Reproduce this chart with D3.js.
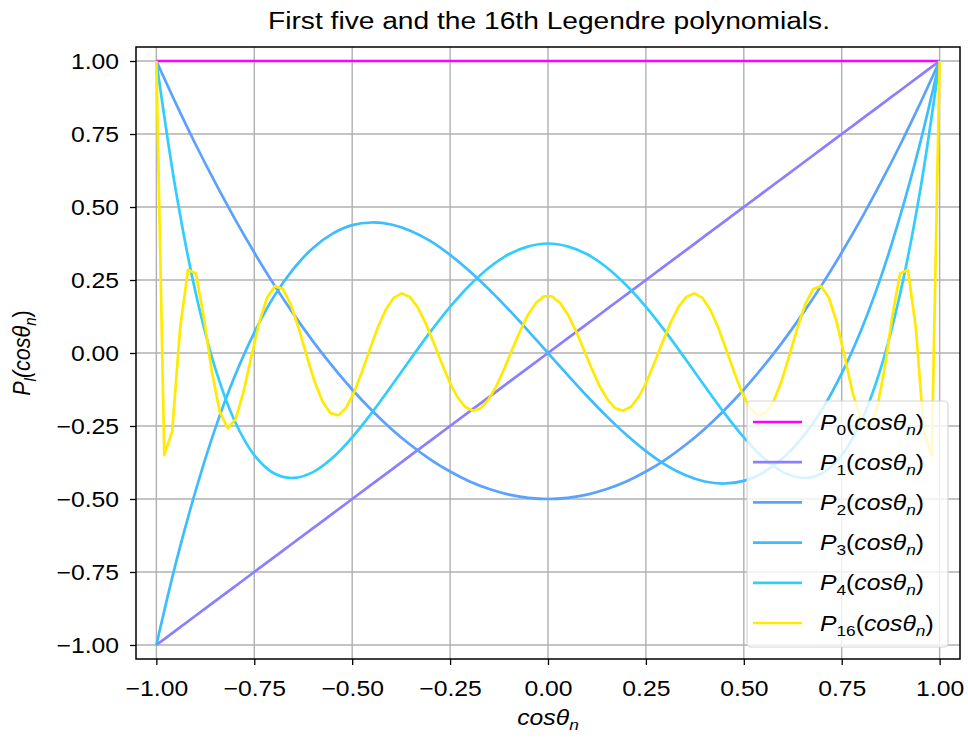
<!DOCTYPE html>
<html>
<head>
<meta charset="utf-8">
<script src="https://cdnjs.cloudflare.com/ajax/libs/d3/7.8.5/d3.min.js"></script>
<style>
body { margin: 0; background: #fff; }
svg text { font-family: "Liberation Sans", Arial, sans-serif; fill: #000; }
</style>
</head>
<body>
<svg width="968" height="740"></svg>
<script>
// sample points for the low order polynomials (step 0.05)
var xCoarse = [-1, -0.95, -0.9, -0.85, -0.8, -0.75, -0.7, -0.65, -0.6, -0.55, -0.5,
    -0.45, -0.4, -0.35, -0.3, -0.25, -0.2, -0.15, -0.1, -0.05, 0,
    0.05, 0.1, 0.15, 0.2, 0.25, 0.3, 0.35, 0.4, 0.45, 0.5,
    0.55, 0.6, 0.65, 0.7, 0.75, 0.8, 0.85, 0.9, 0.95, 1];

var p0 = [1, 1, 1, 1, 1, 1, 1, 1, 1, 1, 1, 1, 1, 1, 1, 1, 1, 1, 1, 1, 1,
    1, 1, 1, 1, 1, 1, 1, 1, 1, 1, 1, 1, 1, 1, 1, 1, 1, 1, 1, 1];

var p1 = [-1, -0.95, -0.9, -0.85, -0.8, -0.75, -0.7, -0.65, -0.6, -0.55, -0.5,
    -0.45, -0.4, -0.35, -0.3, -0.25, -0.2, -0.15, -0.1, -0.05, 0,
    0.05, 0.1, 0.15, 0.2, 0.25, 0.3, 0.35, 0.4, 0.45, 0.5,
    0.55, 0.6, 0.65, 0.7, 0.75, 0.8, 0.85, 0.9, 0.95, 1];

var p2 = [1, 0.854, 0.715, 0.584, 0.46, 0.344, 0.235, 0.134, 0.04, -0.046, -0.125,
    -0.196, -0.26, -0.316, -0.365, -0.406, -0.44, -0.466, -0.485, -0.496, -0.5,
    -0.496, -0.485, -0.466, -0.44, -0.406, -0.365, -0.316, -0.26, -0.196, -0.125,
    -0.046, 0.04, 0.134, 0.235, 0.344, 0.46, 0.584, 0.715, 0.854, 1];

var p3 = [-1, -0.718, -0.473, -0.26, -0.08, 0.07, 0.193, 0.288, 0.36, 0.409, 0.438,
    0.447, 0.44, 0.418, 0.383, 0.336, 0.28, 0.217, 0.148, 0.075, 0,
    -0.075, -0.148, -0.217, -0.28, -0.336, -0.383, -0.418, -0.44, -0.447, -0.438,
    -0.409, -0.36, -0.288, -0.193, -0.07, 0.08, 0.26, 0.473, 0.718, 1];

var p4 = [1, 0.554, 0.208, -0.051, -0.233, -0.35, -0.412, -0.428, -0.408, -0.359, -0.289,
    -0.205, -0.113, -0.019, 0.073, 0.158, 0.232, 0.293, 0.338, 0.365, 0.375,
    0.365, 0.338, 0.293, 0.232, 0.158, 0.073, -0.019, -0.113, -0.205, -0.289,
    -0.359, -0.408, -0.428, -0.412, -0.35, -0.233, -0.051, 0.208, 0.554, 1];

// 100 sample points for P16
var xFine = [-1.0000, -0.9798, -0.9596, -0.9394, -0.9192, -0.8990, -0.8788, -0.8586, -0.8384, -0.8182,
    -0.7980, -0.7778, -0.7576, -0.7374, -0.7172, -0.6970, -0.6768, -0.6566, -0.6364, -0.6162,
    -0.5960, -0.5758, -0.5556, -0.5354, -0.5152, -0.4949, -0.4747, -0.4545, -0.4343, -0.4141,
    -0.3939, -0.3737, -0.3535, -0.3333, -0.3131, -0.2929, -0.2727, -0.2525, -0.2323, -0.2121,
    -0.1919, -0.1717, -0.1515, -0.1313, -0.1111, -0.0909, -0.0707, -0.0505, -0.0303, -0.0101,
    0.0101, 0.0303, 0.0505, 0.0707, 0.0909, 0.1111, 0.1313, 0.1515, 0.1717, 0.1919,
    0.2121, 0.2323, 0.2525, 0.2727, 0.2929, 0.3131, 0.3333, 0.3535, 0.3737, 0.3939,
    0.4141, 0.4343, 0.4545, 0.4747, 0.4949, 0.5152, 0.5354, 0.5556, 0.5758, 0.5960,
    0.6162, 0.6364, 0.6566, 0.6768, 0.6970, 0.7172, 0.7374, 0.7576, 0.7778, 0.7980,
    0.8182, 0.8384, 0.8586, 0.8788, 0.8990, 0.9192, 0.9394, 0.9596, 0.9798, 1.0000];

var p16 = [1.000, -0.350, -0.269, 0.084, 0.285, 0.272, 0.123, -0.062, -0.200, -0.257,
    -0.227, -0.135, -0.013, 0.104, 0.190, 0.229, 0.219, 0.166, 0.084, -0.009,
    -0.098, -0.166, -0.206, -0.213, -0.187, -0.134, -0.063, 0.014, 0.088, 0.149,
    0.189, 0.204, 0.193, 0.158, 0.104, 0.039, -0.031, -0.096, -0.149, -0.184,
    -0.198, -0.189, -0.159, -0.112, -0.052, 0.014, 0.077, 0.132, 0.172, 0.194,
    0.194, 0.172, 0.132, 0.077, 0.014, -0.052, -0.112, -0.159, -0.189, -0.198,
    -0.184, -0.149, -0.096, -0.031, 0.039, 0.104, 0.158, 0.193, 0.204, 0.189,
    0.149, 0.088, 0.014, -0.063, -0.134, -0.187, -0.213, -0.206, -0.166, -0.098,
    -0.009, 0.084, 0.166, 0.219, 0.229, 0.190, 0.104, -0.013, -0.135, -0.227,
    -0.257, -0.200, -0.062, 0.123, 0.272, 0.285, 0.084, -0.269, -0.350, 1.000];

var degrees = ["0", "1", "2", "3", "4", "16"];
var tickValues = [-1, -0.75, -0.5, -0.25, 0, 0.25, 0.5, 0.75, 1];
var lineColors = ["#ff00ff", "#8a80ff", "#5aa2ff", "#3dbcff", "#33ccff", "#ffea00"];

var legendre = {

    sx : 1.15,   // text in the picture is a little wider than normal

    show : function() {
        var series = [
            {deg: degrees[0], xs: xCoarse, ys: p0, smooth: true},
            {deg: degrees[1], xs: xCoarse, ys: p1, smooth: true},
            {deg: degrees[2], xs: xCoarse, ys: p2, smooth: true},
            {deg: degrees[3], xs: xCoarse, ys: p3, smooth: true},
            {deg: degrees[4], xs: xCoarse, ys: p4, smooth: true},
            {deg: degrees[5], xs: xFine, ys: p16, smooth: false}
        ];
        legendre.dataViz(series);
    },

    mathLabel : function(t, sub) {
        t.append("tspan").style("font-style", "italic").text("P");
        t.append("tspan").attr("dy", 5).style("font-size", "70%").text(sub);
        t.append("tspan").attr("dy", -5).text("(");
        t.append("tspan").style("font-style", "italic").text("cosθ");
        t.append("tspan").attr("dy", 5).style("font-size", "70%").style("font-style", "italic").text("n");
        t.append("tspan").attr("dy", -5).text(")");
    },

    dataViz : function(series) {
        var sx = legendre.sx;
        var svg = d3.select("svg");

        var x = d3.scaleLinear().domain([-1.052, 1.052]).range([136, 960]);
        var y = d3.scaleLinear().domain([-1.048, 1.048]).range([659, 47]);

        // grid
        svg.append("g")
            .attr("class", "grid")
            .selectAll("line.gx")
            .data(tickValues)
            .enter()
            .append("line")
            .attr("x1", function(d) {return x(d);})
            .attr("x2", function(d) {return x(d);})
            .attr("y1", y.range()[0])
            .attr("y2", y.range()[1])
            .style("stroke", "#b0b0b0")
            .style("stroke-width", "1.4px");
        svg.select("g.grid")
            .selectAll("line.gy")
            .data(tickValues)
            .enter()
            .append("line")
            .attr("x1", x.range()[0])
            .attr("x2", x.range()[1])
            .attr("y1", function(d) {return y(d);})
            .attr("y2", function(d) {return y(d);})
            .style("stroke", "#b0b0b0")
            .style("stroke-width", "1.4px");

        // curves
        var smoothLine = d3.line()
            .x(function(d) {return x(d[0]);})
            .y(function(d) {return y(d[1]);})
            .curve(d3.curveCatmullRom);
        var straightLine = d3.line()
            .x(function(d) {return x(d[0]);})
            .y(function(d) {return y(d[1]);});

        svg.append("g")
            .attr("id", "curves")
            .selectAll("path")
            .data(series)
            .enter()
            .append("path")
            .attr("d", function(d) {
                var pts = d.xs.map(function(v, i) {return [v, d.ys[i]];});
                return d.smooth ? smoothLine(pts) : straightLine(pts);
            })
            .style("fill", "none")
            .style("stroke", function(d, i) {return lineColors[i];})
            .style("stroke-width", "2.7px")
            .style("stroke-linejoin", "round");

        // axes
        var fmt = d3.format(".2f");
        var xAxis = svg.append("g")
            .attr("transform", "translate(0," + y.range()[0] + ")")
            .call(d3.axisBottom(x).tickValues(tickValues).tickFormat(fmt).tickSize(6));
        xAxis.select(".domain").remove();
        xAxis.selectAll("line").style("stroke", "#000").style("stroke-width", "1.3px");
        xAxis.selectAll("text")
            .attr("y", 0)
            .attr("dy", 0)
            .attr("transform", "translate(0,37) scale(" + sx + ",1)")
            .style("font-size", "21.5px")
            .style("font-family", "'Liberation Sans', Arial, sans-serif");

        var yAxis = svg.append("g")
            .attr("transform", "translate(" + x.range()[0] + ",0)")
            .call(d3.axisLeft(y).tickValues(tickValues).tickFormat(fmt).tickSize(6));
        yAxis.select(".domain").remove();
        yAxis.selectAll("line").style("stroke", "#000").style("stroke-width", "1.3px");
        yAxis.selectAll("text")
            .attr("x", 0)
            .attr("dy", "0.36em")
            .attr("transform", "translate(-17,0) scale(" + sx + ",1)")
            .style("font-size", "21.5px")
            .style("font-family", "'Liberation Sans', Arial, sans-serif");

        // frame
        svg.append("rect")
            .attr("x", x.range()[0])
            .attr("y", y.range()[1])
            .attr("width", x.range()[1] - x.range()[0])
            .attr("height", y.range()[0] - y.range()[1])
            .style("fill", "none")
            .style("stroke", "#000")
            .style("stroke-width", "1.5px");

        // title and axis labels
        svg.append("text")
            .attr("transform", "translate(549,29) scale(" + sx + ",1)")
            .style("text-anchor", "middle")
            .style("font-size", "24.5px")
            .text("First five and the 16th Legendre polynomials.");

        var xl = svg.append("text")
            .attr("transform", "translate(548,725) scale(" + sx + ",1)")
            .style("text-anchor", "middle")
            .style("font-size", "21.5px")
            .style("font-style", "italic");
        xl.append("tspan").text("cosθ");
        xl.append("tspan").attr("dy", 5).style("font-size", "70%").text("n");

        var yl = svg.append("text")
            .attr("transform", "translate(30,353) rotate(-90) scale(1," + sx + ")")
            .style("text-anchor", "middle")
            .style("font-size", "21.5px")
            .style("font-style", "italic");
        yl.append("tspan").text("P");
        yl.append("tspan").attr("dy", 5).style("font-size", "70%").text("l");
        yl.append("tspan").attr("dy", -5).text("(cosθ");
        yl.append("tspan").attr("dy", 5).style("font-size", "70%").text("n");
        yl.append("tspan").attr("dy", -5).style("font-style", "normal").text(")");

        // legend
        var legend = svg.append("g").attr("id", "legend");
        legend.append("rect")
            .attr("x", 747)
            .attr("y", 401)
            .attr("width", 201)
            .attr("height", 246)
            .attr("rx", 4)
            .style("fill", "#fff")
            .style("fill-opacity", 0.8)
            .style("stroke", "#d6d6d6")
            .style("stroke-width", "1.2px");

        var rows = legend.selectAll("g.row")
            .data(series)
            .enter()
            .append("g")
            .attr("class", "row")
            .attr("transform", function(d, i) {return "translate(753," + (422 + i * 40.2) + ")";});
        rows.append("line")
            .attr("x1", 0)
            .attr("x2", 49)
            .style("stroke", function(d, i) {return lineColors[i];})
            .style("stroke-width", "2.7px");
        rows.append("text")
            .attr("transform", "translate(67,7.5) scale(" + sx + ",1)")
            .style("font-size", "21.5px")
            .each(function(d) {legendre.mathLabel(d3.select(this), d.deg);});
    }
};

legendre.show();
</script>
</body>
</html>
